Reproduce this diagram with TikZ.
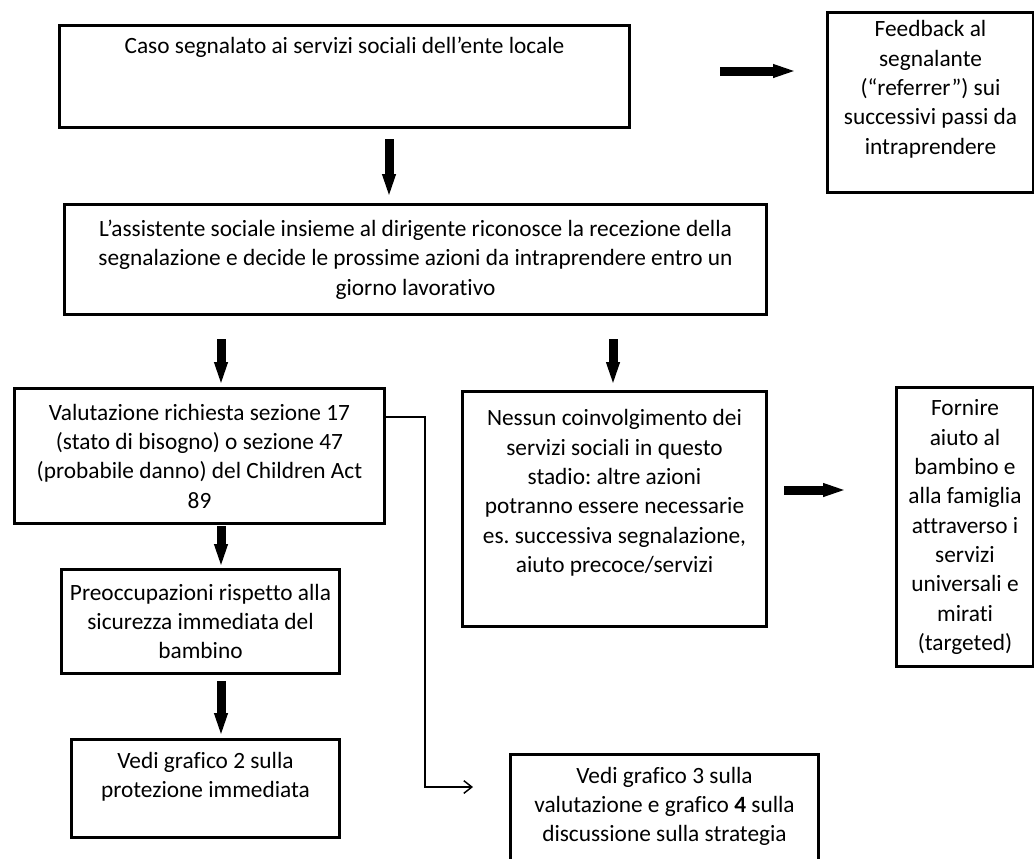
\documentclass[tikz,border=0pt]{standalone}
\usepackage{fontspec}
\setmainfont{Carlito}[Ligatures=NoCommon]
\usetikzlibrary{arrows.meta}
\frenchspacing

% one pixel of the 1034 x 858 canvas
\newlength{\px}
\setlength{\px}{0.75pt}

% box contents: text hanging from the top (with a given top gap), or centred vertically
\newcommand{\topbox}[4]{\parbox[c][#2\px][t]{#1\px}{\centering\vspace*{#3\px}#4\par}}
\newcommand{\midbox}[3]{\parbox[c][#2\px][c]{#1\px}{\centering #3\par}}

\tikzset{
  stage/.style={draw=black, line width=2.25pt, inner sep=0pt, anchor=north west,
                font=\fontsize{17.5}{22}\selectfont},
  fat/.style={line width=6.75pt, -{Triangle[width=9pt,length=18pt]}},
  slim/.style={line width=1.1pt, -{Straight Barb[length=6pt,width=9.5pt,line width=1.1pt]}}
}

\begin{document}
\begin{tikzpicture}[x=0.75pt, y=-0.75pt]
  \useasboundingbox (0,0) rectangle (1034,858);
  \fill[white] (0,0) rectangle (1034,858);

  % boxes
  \node[stage] (b1) at (58,24)
    {\topbox{570}{102}{12}{Caso segnalato ai servizi sociali dell’ente locale}};
  \node[stage] (fb) at (826,11)
    {\topbox{206}{180}{8}{Feedback al\\segnalante\\(“referrer”) sui\\successivi passi da\\intraprendere}};
  \node[stage] (b2) at (63,203)
    {\midbox{702}{110}{L’assistente sociale insieme al dirigente riconosce la recezione della\\segnalazione e decide le prossime azioni da intraprendere entro un\\giorno lavorativo}};
  \node[stage] (b3) at (13,387)
    {\midbox{370}{135}{Valutazione richiesta sezione 17\\(stato di bisogno) o sezione 47\\(probabile danno) del Children Act\\89}};
  \node[stage] (b4) at (461,390)
    {\topbox{304}{235}{18}{Nessun coinvolgimento dei\\servizi sociali in questo\\stadio: altre azioni\\potranno essere necessarie\\es. successiva segnalazione,\\aiuto precoce/servizi}};
  \node[stage] (b5) at (895,386)
    {\midbox{137}{279}{Fornire\\aiuto al\\bambino e\\alla famiglia\\attraverso i\\servizi\\universali e\\mirati\\(targeted)}};
  \node[stage] (b6) at (60,568)
    {\midbox{278}{104}{Preoccupazioni rispetto alla\\sicurezza immediata del\\bambino}};
  \node[stage] (b7) at (70,738)
    {\topbox{268}{98}{12.5}{Vedi grafico 2 sulla\\protezione immediata}};
  \node[stage] (b8) at (509,753)
    {\topbox{308}{130}{12.5}{Vedi grafico 3 sulla\\valutazione e grafico \textbf{4} sulla\\discussione sulla strategia}};

  % reference lines for the connectors
  \coordinate (d1) at (389,0);
  \coordinate (d2) at (221,0);
  \coordinate (d3) at (613,0);
  \coordinate (r1) at (0,71);
  \coordinate (r2) at (0,490);
  \coordinate (e1) at (0,417);
  \coordinate (e2) at (425,787);

  % heavy arrows
  \draw[fat] ([yshift=-10\px] b1.south -| d1) -- ([yshift=5\px] b2.north -| d1);
  \draw[fat] ([yshift=-23\px] b2.south -| d2) -- ([yshift=1\px] b3.north -| d2);
  \draw[fat] ([yshift=-23\px] b2.south -| d3) -- ([yshift=4\px] b4.north -| d3);
  \draw[fat] ([yshift=-1\px] b3.south -| d2) -- (b6.north -| d2);
  \draw[fat] ([yshift=-6\px] b6.south -| d2) -- ([yshift=1\px] b7.north -| d2);
  \draw[fat] ([xshift=89\px] b1.east |- r1) -- ([xshift=-29\px] fb.west |- r1);
  \draw[fat] ([xshift=16\px] b4.east |- r2) -- ([xshift=-48\px] b5.west |- r2);

  % thin elbow connector
  \draw[slim] (b3.east |- e1) -| (e2) -- ([xshift=-36\px] b8.west |- e2);
\end{tikzpicture}
\end{document}
